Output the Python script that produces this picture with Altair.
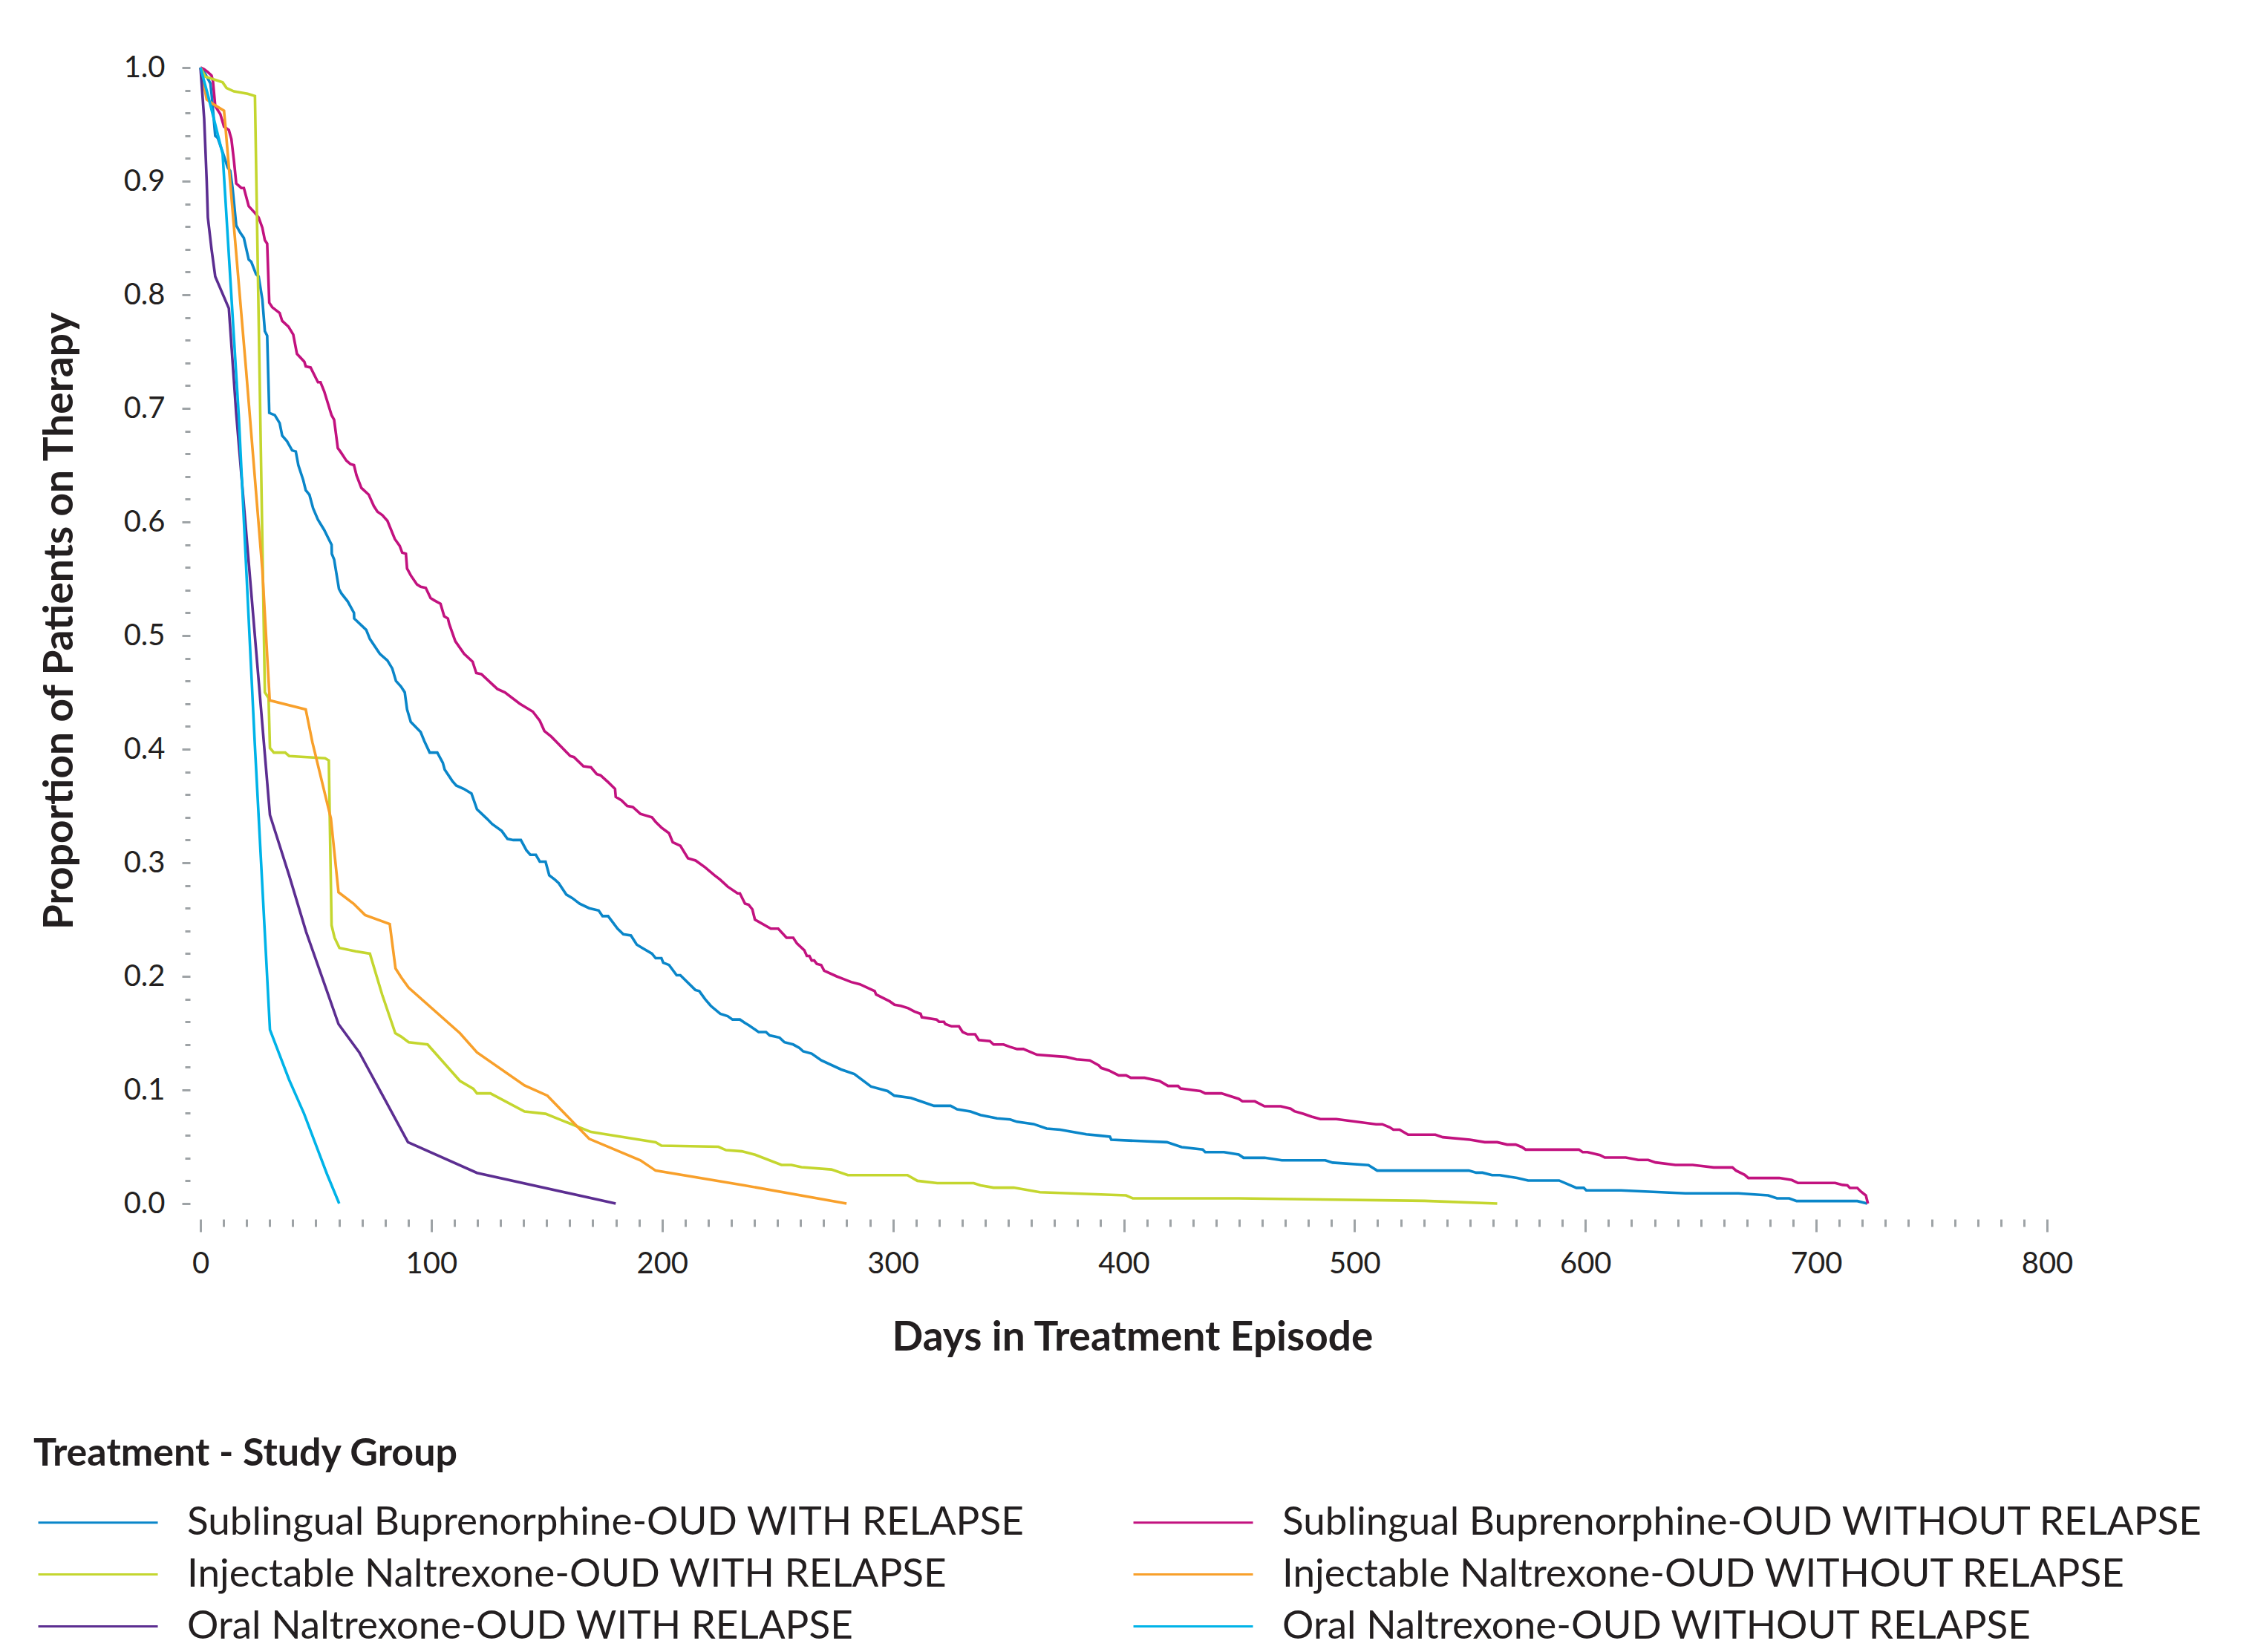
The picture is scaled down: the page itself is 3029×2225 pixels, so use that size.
import altair as alt
import pandas as pd

groups = [
    "Sublingual Buprenorphine-OUD WITH RELAPSE",
    "Injectable Naltrexone-OUD WITH RELAPSE",
    "Oral Naltrexone-OUD WITH RELAPSE",
    "Sublingual Buprenorphine-OUD WITHOUT RELAPSE",
    "Injectable Naltrexone-OUD WITHOUT RELAPSE",
    "Oral Naltrexone-OUD WITHOUT RELAPSE",
]
colors = ["#0a86c9", "#c4d62f", "#5c2e91", "#c2127f", "#f8a02b", "#00b3e8"]

sb_with = [
    (0, 1.0), (1.6, 0.996), (3.8, 0.988), (4.3, 0.986), (4.8, 0.977), (6.4, 0.940), (7.5, 0.938),
    (10.2, 0.922), (11.8, 0.912), (12.9, 0.909), (13.9, 0.894), (15.5, 0.861), (17.1, 0.855),
    (18.8, 0.850), (20.9, 0.831), (22, 0.829), (24.1, 0.818), (25.2, 0.816), (26.8, 0.796),
    (27.9, 0.768), (28.9, 0.764), (29.8, 0.696), (32.2, 0.694), (34.3, 0.687), (35.4, 0.676),
    (37.5, 0.671), (39.7, 0.663), (41.3, 0.662), (42.4, 0.650), (44.5, 0.637), (45.6, 0.628),
    (47.2, 0.624), (48.8, 0.612), (50.9, 0.602), (53.6, 0.593), (55.8, 0.584), (56.8, 0.580),
    (56.9, 0.572), (57.9, 0.567), (60, 0.541), (61.1, 0.537), (63.8, 0.530), (66.5, 0.520),
    (66.6, 0.515), (71.8, 0.505), (73.4, 0.497), (77.7, 0.484), (81, 0.478), (83.1, 0.471),
    (84.7, 0.460), (86.9, 0.455), (88.5, 0.450), (89.5, 0.435), (91.1, 0.424), (95.4, 0.415),
    (97, 0.407), (99.3, 0.397), (102.6, 0.397), (105, 0.388), (105.8, 0.382), (109.1, 0.372),
    (110.8, 0.368), (114.1, 0.365), (117.4, 0.361), (119.8, 0.347), (124, 0.339), (126.4, 0.334),
    (130.5, 0.328), (133, 0.321), (135.5, 0.320), (138.8, 0.320), (141.2, 0.311), (142.9, 0.307),
    (145.3, 0.307), (147, 0.301), (149.5, 0.301), (151.1, 0.289), (153.6, 0.285), (155.2, 0.282),
    (158.5, 0.272), (161, 0.269), (164.3, 0.264), (168.4, 0.260), (172.5, 0.258), (174.2, 0.253),
    (176.6, 0.253), (180.7, 0.242), (183.2, 0.237), (186.5, 0.236), (189, 0.228), (191.4, 0.225),
    (195.6, 0.220), (197.2, 0.216), (199.7, 0.216), (200.5, 0.212), (203, 0.210), (206.3, 0.201),
    (207.9, 0.201), (214.4, 0.188), (216.1, 0.187), (218.6, 0.180), (221.1, 0.174), (225.2, 0.167),
    (228.4, 0.165), (230.5, 0.162), (233.7, 0.162), (235.9, 0.159), (237.5, 0.157), (241.8, 0.151),
    (245, 0.151), (246.6, 0.148), (248.8, 0.147), (250.9, 0.146), (253, 0.142), (256.8, 0.140),
    (259.5, 0.137), (261.1, 0.134), (264.8, 0.132), (269, 0.126), (277.6, 0.118), (283.3, 0.114),
    (290.5, 0.103), (297.7, 0.099), (300.6, 0.095), (307.8, 0.093), (310.6, 0.091), (317.8, 0.086),
    (325, 0.086), (327.8, 0.083), (333.6, 0.081), (337.9, 0.078), (345.1, 0.075), (350.8, 0.074),
    (353.7, 0.072), (360.9, 0.070), (366.6, 0.066), (372.4, 0.065), (383.8, 0.061), (389.2, 0.0599),
    (394, 0.0588), (394.6, 0.0562), (418.7, 0.054), (425.1, 0.0497), (434.2, 0.0475), (435.3, 0.0453),
    (443.4, 0.0453), (449.8, 0.0432), (451.9, 0.0403), (461, 0.0403), (468.5, 0.0381), (487.3, 0.0381),
    (490.5, 0.036), (506, 0.0338), (509.8, 0.029), (549.5, 0.029), (552.7, 0.0272), (555.4, 0.0272),
    (559.6, 0.025), (562.9, 0.025), (570.4, 0.0225), (575.2, 0.0203), (588.6, 0.0203), (596.1, 0.0138),
    (599.3, 0.0138), (600.4, 0.0116), (615.4, 0.0116), (643.3, 0.009), (666.3, 0.009), (679.2, 0.0072),
    (683, 0.0046), (688.3, 0.0046), (691.5, 0.0022), (717.8, 0.0022), (722.1, 0.0),
]

sb_without = [
    (0, 1.0), (1.6, 0.9985), (3.2, 0.996), (4.8, 0.993), (5.4, 0.988), (6.4, 0.966), (8.6, 0.959),
    (10.2, 0.948), (12.3, 0.945), (13.4, 0.937), (14.5, 0.918), (15.5, 0.898), (17.7, 0.894),
    (18.8, 0.894), (20.9, 0.878), (23.6, 0.872), (25.2, 0.868), (26.8, 0.859), (27.9, 0.848),
    (28.9, 0.845), (29.8, 0.793), (31.1, 0.789), (34.3, 0.784), (35.4, 0.777), (38.1, 0.772),
    (40.2, 0.765), (41.8, 0.748), (45, 0.741), (45.6, 0.737), (47.7, 0.736), (50.9, 0.723),
    (52, 0.723), (53.6, 0.715), (56.8, 0.694), (57.9, 0.690), (59.5, 0.665), (60.6, 0.662),
    (63.2, 0.654), (64.9, 0.651), (66.5, 0.650), (67.6, 0.641), (69.7, 0.630), (72.9, 0.624),
    (75.1, 0.614), (76.7, 0.609), (78.8, 0.606), (81, 0.601), (84.2, 0.585), (86.3, 0.579),
    (87.4, 0.573), (89, 0.572), (89.5, 0.559), (91.1, 0.553), (93.8, 0.545), (95.4, 0.543),
    (97.6, 0.542), (99.7, 0.533), (101.3, 0.531), (104, 0.528), (105.6, 0.517), (107.2, 0.515),
    (107.8, 0.510), (110.4, 0.495), (114.2, 0.484), (117.9, 0.477), (119.5, 0.467), (121.7, 0.466),
    (122.8, 0.464), (128.6, 0.453), (131.9, 0.450), (138.3, 0.440), (144, 0.433), (147, 0.425),
    (149, 0.416), (152, 0.411), (154.4, 0.406), (160.2, 0.394), (161.8, 0.393), (165.9, 0.385),
    (169.2, 0.384), (171.7, 0.378), (173.3, 0.377), (176.6, 0.371), (179.6, 0.365), (179.9, 0.358),
    (182.4, 0.355), (184.9, 0.350), (187.3, 0.349), (190.6, 0.343), (195.6, 0.340), (197.2, 0.336),
    (199.7, 0.331), (203, 0.326), (204.6, 0.318), (207.9, 0.315), (211.2, 0.304), (214.5, 0.302),
    (218.6, 0.296), (222.7, 0.289), (225.2, 0.285), (228.4, 0.279), (232.7, 0.273), (233.7, 0.273),
    (235.9, 0.264), (237.5, 0.263), (239.1, 0.259), (240.2, 0.250), (247.1, 0.242), (250.3, 0.242),
    (253.9, 0.234), (256.8, 0.234), (258.4, 0.229), (261.6, 0.223), (262.7, 0.218), (263.8, 0.218),
    (264.8, 0.214), (265.9, 0.214), (267, 0.211), (268.9, 0.210), (270.2, 0.205), (275.6, 0.200),
    (278.2, 0.198), (281.9, 0.195), (285.7, 0.193), (290, 0.189), (292.1, 0.187), (292.7, 0.184),
    (298.6, 0.178), (300.7, 0.175), (303.4, 0.174), (306.6, 0.172), (309.3, 0.169), (312, 0.167),
    (312.5, 0.164), (318.9, 0.162), (320, 0.160), (322.1, 0.160), (322.7, 0.158), (325.4, 0.156),
    (328.6, 0.156), (330.2, 0.151), (332.4, 0.149), (335.6, 0.149), (337.2, 0.144), (342, 0.143),
    (343.6, 0.140), (347.9, 0.140), (350.6, 0.138), (353.8, 0.136), (356.5, 0.136), (362.4, 0.131),
    (375.2, 0.129), (379.5, 0.127), (385.3, 0.126), (389.2, 0.1216), (390.2, 0.1194), (393.5, 0.1172),
    (397.8, 0.1128), (401, 0.1128), (403.1, 0.1107), (409, 0.1107), (415.5, 0.1079), (419.2, 0.1035),
    (423.5, 0.1035), (424.6, 0.1013), (433.2, 0.0991), (435.3, 0.097), (442.3, 0.097), (449.8, 0.0922),
    (451.4, 0.09), (456.8, 0.09), (461, 0.0856), (468, 0.0856), (472.3, 0.0835), (473.9, 0.0813),
    (477.7, 0.0791), (481.4, 0.0765), (485.2, 0.0743), (492.1, 0.0743), (509.3, 0.0698), (512, 0.0698),
    (515.2, 0.0671), (516.8, 0.065), (519.5, 0.065), (523.2, 0.0606), (535, 0.0606), (538.2, 0.0584),
    (550, 0.0562), (556.4, 0.054), (561.8, 0.054), (566.1, 0.0519), (569.8, 0.0519), (572.5, 0.0497),
    (574.1, 0.0475), (597.2, 0.0475), (598.8, 0.0453), (600.9, 0.0453), (606.3, 0.0427), (608.4, 0.0405),
    (617.5, 0.0405), (622.9, 0.0384), (627.2, 0.0384), (630.4, 0.0362), (639, 0.034), (646.5, 0.034),
    (655.6, 0.0318), (663.7, 0.0318), (665.3, 0.029), (669, 0.0253), (670.6, 0.0225), (684, 0.0225),
    (689.4, 0.0207), (692.1, 0.0181), (708.2, 0.0181), (711.4, 0.0164), (713.5, 0.016), (714.6, 0.0137),
    (717.8, 0.0137), (719.4, 0.0105), (721.5, 0.0072), (722.4, 0.0),
]

inj_with = [
    (0, 1.0), (2.1, 0.992), (9.6, 0.987), (11.3, 0.982), (14.5, 0.979), (20.4, 0.977), (23.6, 0.975),
    (27.9, 0.450), (29.5, 0.445), (30.1, 0.401), (31.8, 0.397), (36.7, 0.397), (38.4, 0.394),
    (54, 0.392), (55.6, 0.390), (56.8, 0.245), (58.1, 0.234), (60.2, 0.225), (67.2, 0.222),
    (73.4, 0.220), (78.7, 0.184), (84.4, 0.150), (86.9, 0.147), (90.2, 0.142), (98.4, 0.140),
    (112.4, 0.108), (118.2, 0.101), (119.8, 0.097), (125.6, 0.097), (140.4, 0.081), (149.5, 0.079),
    (169.2, 0.063), (197.2, 0.054), (199.7, 0.051), (224.4, 0.050), (227.7, 0.047), (234.5, 0.046),
    (240.3, 0.043), (251.7, 0.034), (256, 0.034), (260.4, 0.032), (273.3, 0.030), (280.5, 0.025),
    (306.3, 0.025), (310.6, 0.020), (319.2, 0.018), (335, 0.018), (337.9, 0.016), (343.6, 0.014),
    (352.3, 0.014), (363.7, 0.010), (401, 0.0072), (403.9, 0.0046), (449.9, 0.0046), (530.3, 0.0024),
    (561.8, 0.0),
]

inj_without = [
    (0, 1.0), (2.7, 0.972), (5.4, 0.968), (10.2, 0.962), (10.7, 0.951), (19.8, 0.733), (26.8, 0.558),
    (30, 0.443), (45.6, 0.435), (48.5, 0.406), (56.5, 0.339), (59.8, 0.274), (66.3, 0.264),
    (71.3, 0.254), (82, 0.246), (84.5, 0.207), (87, 0.199), (90.2, 0.190), (112.4, 0.150),
    (119.8, 0.133), (140.4, 0.104), (150.3, 0.095), (168.4, 0.057), (190.6, 0.038), (197.2, 0.029),
    (235.6, 0.016), (279.9, 0.0),
]

oral_with = [
    (0, 1.0), (1.6, 0.955), (2.7, 0.900), (3.2, 0.868), (4.8, 0.840), (6.4, 0.816), (12.3, 0.788),
    (15.5, 0.695), (30.1, 0.342), (38.4, 0.289), (45.8, 0.239), (54.8, 0.187), (59.8, 0.158),
    (68.8, 0.133), (79.5, 0.093), (89.9, 0.054), (119.8, 0.027), (179.9, 0.0),
]

oral_without = [
    (0, 1.0), (3.2, 0.976), (9.6, 0.924), (16.6, 0.693), (23.5, 0.406), (30.1, 0.153),
    (38.4, 0.109), (44.9, 0.079), (54.8, 0.026), (60.1, 0.0),
]

# drawing order (bottom to top)
draw_order = [
    ("Sublingual Buprenorphine-OUD WITH RELAPSE", sb_with),
    ("Sublingual Buprenorphine-OUD WITHOUT RELAPSE", sb_without),
    ("Injectable Naltrexone-OUD WITH RELAPSE", inj_with),
    ("Injectable Naltrexone-OUD WITHOUT RELAPSE", inj_without),
    ("Oral Naltrexone-OUD WITH RELAPSE", oral_with),
    ("Oral Naltrexone-OUD WITHOUT RELAPSE", oral_without),
]

rows = []
for g, pts in draw_order:
    for i, (d, v) in enumerate(pts):
        rows.append({"group": g, "day": d, "value": v, "idx": i})
df = pd.DataFrame(rows)

x_ticks = list(range(0, 801, 10))
y_ticks = [round(i * 0.02, 2) for i in range(51)]

FONT = "Lato"
TXT = "#231f20"
TICK = "#9ea3a6"

y_major = "abs(datum.value*10 - round(datum.value*10)) < 0.001"

x_axis = alt.Axis(
    values=x_ticks,
    labelExpr="datum.value % 100 === 0 ? datum.label : ''",
    format="d",
    domain=False, grid=False, offset=21,
    tickColor=TICK, tickWidth=3,
    tickSize={"condition": {"test": "datum.value % 100 === 0", "value": 17}, "value": 10},
    labelFont=FONT, labelFontSize=40, labelColor=TXT, labelPadding=23,
    labelFlush=False, labelOverlap=False,
    title="Days in Treatment Episode", titleFont=FONT, titleFontSize=55,
    titleFontWeight="bold", titleColor=TXT, titlePadding=53, titleX=1255,
)

y_axis = alt.Axis(
    values=y_ticks,
    labelExpr=y_major + " ? format(datum.value, '.1f') : ''",
    domain=False, grid=False, offset=14,
    tickColor=TICK, tickWidth=3,
    tickSize={"condition": {"test": y_major, "value": 11}, "value": 7},
    labelFont=FONT, labelFontSize=40, labelColor=TXT, labelPadding=23,
    labelOverlap=False,
    title="Proportion of Patients on Therapy", titleFont=FONT, titleFontSize=55,
    titleFontWeight="bold", titleColor=TXT, titlePadding=57, titleY=745,
)

legend = alt.Legend(
    title="Treatment - Study Group", orient="none", legendX=-225, legendY=1842,
    columns=2, padding=0,
    titleFont=FONT, titleFontSize=52, titleFontWeight="bold", titleColor=TXT,
    titlePadding=39, titleLimit=3000,
    labelFont=FONT, labelFontSize=53, labelColor=TXT, labelLimit=3000, labelOffset=154,
    symbolType="M-1.24,0H8.76", symbolSize=1037, symbolStrokeWidth=3,
    columnPadding=140, rowPadding=16,
)

chart = alt.Chart(df).mark_line(strokeWidth=3.6).encode(
    x=alt.X("day:Q", scale=alt.Scale(domain=[0, 800], nice=False, zero=False), axis=x_axis),
    y=alt.Y("value:Q", scale=alt.Scale(domain=[0, 1], nice=False), axis=y_axis),
    color=alt.Color("group:N", scale=alt.Scale(domain=groups, range=colors), legend=legend),
    order=alt.Order("idx:Q"),
).properties(
    width=2487, height=1530,
    autosize=alt.AutoSizeParams(type="none"),
    padding={"left": 262, "top": 83, "right": 250, "bottom": 596},
).configure_view(stroke=None)

chart.save("out.html", embed_options={"renderer": "svg", "actions": False})
